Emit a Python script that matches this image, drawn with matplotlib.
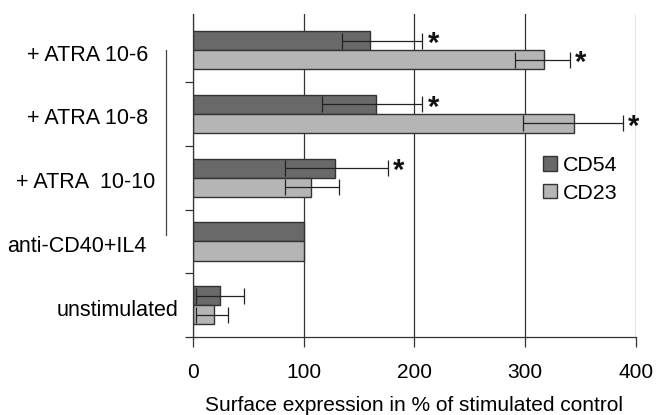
import matplotlib
matplotlib.use("Agg")
import matplotlib.pyplot as plt
import numpy as np
from matplotlib.patches import Patch
from matplotlib.lines import Line2D
from matplotlib.transforms import blended_transform_factory

plt.rcParams['font.family'] = ['Liberation Sans', 'DejaVu Sans']

categories = ["+ ATRA 10-6", "+ ATRA 10-8", "+ ATRA  10-10", "anti-CD40+IL4", "unstimulated"]
cd54 = [160, 165, 128, 100, 25]
cd54_err_lo = [25, 48, 45, 0, 22]
cd54_err_hi = [47, 42, 48, 0, 21]
cd23 = [317, 344, 107, 100, 19]
cd23_err_lo = [26, 46, 24, 0, 16]
cd23_err_hi = [23, 44, 25, 0, 13]
cd54_sig = [True, True, True, False, False]
cd23_sig = [True, True, False, False, False]
series_names = ["CD54", "CD23"]
xticks = [0, 100, 200, 300, 400]

dark = "#696969"
light = "#b5b5b5"
edge = "#333333"

fig = plt.figure(figsize=(6.57, 4.15), dpi=100)
W, H = 657, 415
ax = fig.add_axes([192.7 / W, 1 - 337 / H, (636 - 192.7) / W, (337 - 14) / H])

n = len(categories)
centers = np.arange(n)[::-1] + 0.5
bh = 0.30

ax.barh(centers + bh / 2, cd54, height=bh, color=dark, edgecolor=edge, linewidth=1.0, zorder=2)
ax.barh(centers - bh / 2, cd23, height=bh, color=light, edgecolor=edge, linewidth=1.0, zorder=2)

for vals, lo, hi, off in [(cd54, cd54_err_lo, cd54_err_hi, bh / 2), (cd23, cd23_err_lo, cd23_err_hi, -bh / 2)]:
    for i in range(n):
        if lo[i] == 0 and hi[i] == 0:
            continue
        ax.errorbar(vals[i], centers[i] + off, xerr=[[lo[i]], [hi[i]]], fmt='none',
                    ecolor="#222222", elinewidth=0.9, capsize=5.5, capthick=0.9, zorder=3)

# significance stars
for vals, hi, sig, off in [(cd54, cd54_err_hi, cd54_sig, bh / 2), (cd23, cd23_err_hi, cd23_sig, -bh / 2)]:
    for i in range(n):
        if sig[i]:
            ax.text(vals[i] + hi[i] + 5, centers[i] + off - 0.05, "*", fontsize=21,
                    fontweight='bold', ha='left', va='center', color="#111111", zorder=4)

ax.set_xlim(0, 400)
ax.set_ylim(0, 5.067)
ax.set_xticks(xticks)
ax.set_xticklabels([str(t) for t in xticks], fontsize=15)
ax.set_yticks([0, 1, 2, 3, 4])
ax.set_yticklabels([])
ax.tick_params(axis='x', direction='out', length=7, width=0.9, color="#333333", pad=12)
ax.tick_params(axis='y', direction='out', length=6, width=0.9, color="#333333")
for s in ['top', 'right']:
    ax.spines[s].set_visible(False)
for s in ['left', 'bottom']:
    ax.spines[s].set_color("#333333")
    ax.spines[s].set_linewidth(0.9)
ax.xaxis.grid(True, color="#333333", linewidth=0.9, zorder=0)
ax.set_axisbelow(True)
ax.set_xlabel("Surface expression in % of stimulated control", fontsize=15, labelpad=10)

# category labels
tr = blended_transform_factory(fig.transFigure, ax.transData)
label_right = [148, 148, 155, 147, 179]
for i, lab in enumerate(categories):
    ax.text(label_right[i] / W, centers[i] - 0.08, lab, transform=tr, fontsize=15.5,
            ha='right', va='center')

# bracket line
fig.add_artist(Line2D([165.7 / W, 165.7 / W], [1 - 50 / H, 1 - 235 / H],
                      transform=fig.transFigure, color="#444444", linewidth=0.9))

handles = [Patch(facecolor=dark, edgecolor=edge, linewidth=1.0),
           Patch(facecolor=light, edgecolor=edge, linewidth=1.0)]
fig.legend(handles, series_names, loc='upper left', bbox_to_anchor=(543 / W, 1 - 156 / H),
           frameon=False, fontsize=15.4, handlelength=0.65, handleheight=0.65,
           handletextpad=0.3, labelspacing=0.4, borderpad=0, borderaxespad=0)

fig.savefig("out.png", dpi=100)
